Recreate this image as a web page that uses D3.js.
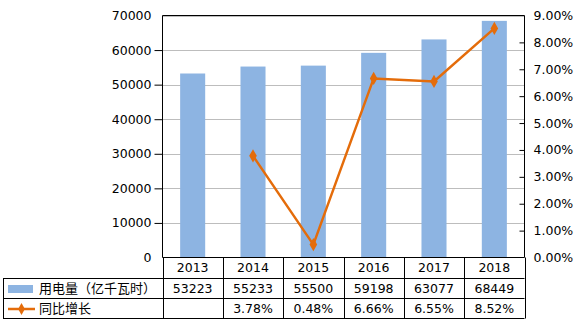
<!DOCTYPE html>
<html><head><meta charset="utf-8">
<script src="https://cdn.jsdelivr.net/npm/d3@7"></script>
<style>body{margin:0;background:#fff}svg{display:block}</style>
</head><body><svg id="c" width="587" height="323"></svg>
<script>
const years = ["2013","2014","2015","2016","2017","2018"];
const usage = [53223,55233,55500,59198,63077,68449];
const growth = [null,3.78,0.48,6.66,6.55,8.52];
const leftTicks = [0,10000,20000,30000,40000,50000,60000,70000];
const rightTicks = [0,1,2,3,4,5,6,7,8,9];
const seriesNames = ["用电量（亿千瓦时）","同比增长"];

const svg = d3.select("#c");
const L = 162.5, R = 524.5, T = 15.5, B = 257.5;
const numFont = "DejaVu Sans, Verdana, sans-serif";
const cjkFont = "Noto Sans CJK SC, sans-serif";
const barColor = "#8DB4E2", lineColor = "#E46C0A";

const x = d3.scaleBand().domain(years).range([L, R]).paddingInner(0.585).paddingOuter(0.2925);
const xc = d3.scaleBand().domain(years).range([L, R]);
const y = d3.scaleLinear().domain([0,70000]).range([B, T]);
const y2 = d3.scaleLinear().domain([0,9]).range([B, T]);

// gridlines
svg.append("g").selectAll("line").data(leftTicks.slice(1)).join("line")
  .attr("x1", L).attr("x2", R).attr("y1", d=>Math.round(y(d))+0.5).attr("y2", d=>Math.round(y(d))+0.5)
  .attr("stroke", "#bdbdbd").attr("stroke-width", 1);

// bars
svg.append("g").selectAll("rect").data(usage).join("rect")
  .attr("x", (d,i)=>x(years[i])).attr("width", x.bandwidth())
  .attr("y", d=>y(d)).attr("height", d=>B - y(d)).attr("fill", barColor);

// left axis
const ga = svg.append("g").attr("transform", `translate(${L},0)`)
  .call(d3.axisLeft(y).tickValues(leftTicks).tickFormat(d3.format("d")).tickSize(8).tickPadding(3));
ga.select(".domain").remove();
ga.selectAll(".tick line").attr("stroke", "#000");
ga.selectAll("text").attr("font-family", numFont).attr("font-size", "12.5px").attr("fill", "#000");
ga.selectAll(".tick").filter(d=>d===0 || d===70000).select("line").remove();

// right axis
const gb = svg.append("g").attr("transform", `translate(${R},0)`)
  .call(d3.axisRight(y2).tickValues(rightTicks).tickFormat(d=>d3.format(".2f")(d)+"%").tickSize(-5).tickPadding(9));
gb.select(".domain").remove();
gb.selectAll(".tick line").attr("stroke", "#000");
gb.selectAll("text").attr("font-family", numFont).attr("font-size", "12.5px").attr("fill", "#000");
gb.selectAll(".tick").filter(d=>d===0 || d===9).select("line").remove();

// plot border
svg.append("path").attr("d", `M${L},${B}V${T}H${R}V${B}`).attr("fill","none").attr("stroke","#000");

// line
const pts = growth.map((g,i)=>({g, yr: years[i]})).filter(d=>d.g!==null);
const cx = d=>xc(d.yr)+xc.bandwidth()/2;
svg.append("path").datum(pts)
  .attr("d", d3.line().x(cx).y(d=>y2(d.g)))
  .attr("fill","none").attr("stroke", lineColor).attr("stroke-width", 2.5);
svg.append("g").selectAll("path").data(pts).join("path")
  .attr("transform", d=>`translate(${cx(d)},${y2(d.g)})`)
  .attr("d", d3.symbol(d3.symbolDiamond, 50)).attr("fill", lineColor);

// data table
const rows = [B, 278, 298, 318];
const tb = svg.append("g").attr("stroke", "#000").attr("stroke-width", 1);
// horizontal lines
tb.append("line").attr("x1", L).attr("x2", R).attr("y1", B).attr("y2", B);
[278, 298, 318].forEach(yy => tb.append("line").attr("x1", 3).attr("x2", R).attr("y1", yy+0.5).attr("y2", yy+0.5));
// verticals
const bounds = years.map(d=>xc(d)).concat([R]);
bounds.forEach(bx => tb.append("line").attr("x1", Math.round(bx)+0.5).attr("x2", Math.round(bx)+0.5).attr("y1", B).attr("y2", 318.5));
tb.append("line").attr("x1", 3.5).attr("x2", 3.5).attr("y1", 278.5).attr("y2", 318.5);

const txt = svg.append("g");
years.forEach((yr,i) => {
  const cxx = xc(yr)+xc.bandwidth()/2;
  txt.append("text").attr("x", cxx).attr("y", 272).attr("text-anchor","middle")
    .attr("font-family", numFont).attr("font-size","12.5px").text(yr);
  txt.append("text").attr("x", cxx).attr("y", 292.5).attr("text-anchor","middle")
    .attr("font-family", numFont).attr("font-size","12.5px").text(usage[i]);
  if (growth[i] !== null)
    txt.append("text").attr("x", cxx).attr("y", 312.5).attr("text-anchor","middle")
      .attr("font-family", numFont).attr("font-size","12.5px").text(d3.format(".2f")(growth[i])+"%");
});
// legend keys
svg.append("rect").attr("x", 8).attr("y", 285).attr("width", 25).attr("height", 8).attr("fill", barColor);
svg.append("line").attr("x1", 8).attr("x2", 35).attr("y1", 309).attr("y2", 309).attr("stroke", lineColor).attr("stroke-width", 2.5);
svg.append("path").attr("transform","translate(21.5,309)").attr("d", d3.symbol(d3.symbolDiamond, 40)).attr("fill", lineColor);
txt.append("text").attr("x", 39).attr("y", 293).attr("font-family", cjkFont).attr("font-size","13px").text(seriesNames[0]);
txt.append("text").attr("x", 39).attr("y", 313).attr("font-family", cjkFont).attr("font-size","13px").text(seriesNames[1]);
</script></body></html>
